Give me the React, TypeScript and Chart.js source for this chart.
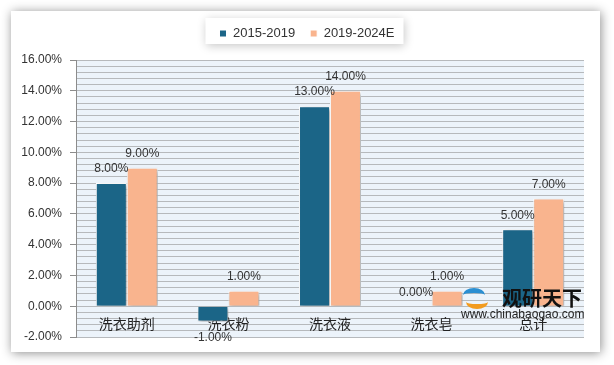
import React, { useEffect, useRef } from 'react';
import { Chart, registerables } from 'chart.js';

Chart.register(...registerables);

const categories = ['洗衣助剂', '洗衣粉', '洗衣液', '洗衣皂', '总计'];
const seriesNames = ['2015-2019', '2019-2024E'];
const values2015_2019 = [8, -1, 13, 0, 5];
const values2019_2024E = [9, 1, 14, 1, 7];
const yMin = -2;
const yMax = 16;
const yMajorStep = 2;
const yMinorStep = 0.4;

const TEAL = '#1b6587';
const PEACH = '#f9b48e';
const LATIN = '"Liberation Sans", Arial, sans-serif';
const CJK = '"Noto Sans CJK SC", sans-serif';

const isMajor = (v: number) => Math.abs(v / yMajorStep - Math.round(v / yMajorStep)) < 1e-6;

const bgPlugin = {
  id: 'bgPlugin',
  beforeDraw(chart: any) {
    const { ctx, chartArea: a } = chart;
    ctx.save();
    ctx.fillStyle = '#ecf3fa';
    ctx.fillRect(a.left, a.top, a.right - a.left, a.bottom - a.top);
    const lg = chart.legend;
    if (lg && lg.legendHitBoxes && lg.legendHitBoxes.length) {
      const hb = lg.legendHitBoxes;
      const l = Math.min(...hb.map((h: any) => h.left)) - 14;
      const r = Math.max(...hb.map((h: any) => h.left + h.width)) + 9;
      ctx.shadowColor = 'rgba(0,0,0,0.22)';
      ctx.shadowBlur = 10;
      ctx.shadowOffsetX = 1;
      ctx.shadowOffsetY = 2;
      ctx.fillStyle = '#ffffff';
      ctx.fillRect(l, lg.top + 6, r - l, 26);
    }
    ctx.restore();
  },
};

const shadowPlugin = {
  id: 'barShadow',
  beforeDatasetsDraw(chart: any) {
    const c = chart.ctx;
    c.save();
    c.shadowColor = 'rgba(0,0,0,0.35)';
    c.shadowBlur = 4;
    c.shadowOffsetX = 2;
    c.shadowOffsetY = 2;
  },
  afterDatasetsDraw(chart: any) {
    chart.ctx.restore();
  },
};

const labelPlugin = {
  id: 'valueLabels',
  afterDatasetsDraw(chart: any) {
    const { ctx } = chart;
    ctx.save();
    ctx.font = `12px ${LATIN}`;
    ctx.fillStyle = '#333333';
    ctx.textAlign = 'center';
    ctx.textBaseline = 'middle';
    chart.data.datasets.forEach((ds: any, i: number) => {
      const meta = chart.getDatasetMeta(i);
      meta.data.forEach((el: any, j: number) => {
        const v = ds.data[j] as number;
        const y = v < 0 ? el.y + 16 : el.y - 14;
        ctx.fillText(v.toFixed(2) + '%', el.x, y);
      });
    });
    ctx.restore();
  },
};

const legendSpacer = {
  id: 'legendSpacer',
  beforeInit(chart: any) {
    const lg = chart.legend;
    if (!lg) return;
    const orig = lg.fit;
    lg.fit = function () {
      orig.call(this);
      this.height += 10;
    };
  },
  afterLayout(chart: any) {
    const lg = chart.legend;
    if (!lg) return;
    // centre the legend on the whole card rather than on the padded box
    lg.left += 15;
    lg.right += 15;
  },
};

export default function App() {
  const ref = useRef<HTMLCanvasElement | null>(null);

  useEffect(() => {
    if (!ref.current) return;
    const chart = new Chart(ref.current, {
      type: 'bar',
      data: {
        labels: categories,
        datasets: [
          {
            label: seriesNames[0],
            data: values2015_2019,
            backgroundColor: TEAL,
            borderColor: '#ffffff',
            borderWidth: 1,
            categoryPercentage: 0.61,
            barPercentage: 1,
          },
          {
            label: seriesNames[1],
            data: values2019_2024E,
            backgroundColor: PEACH,
            borderColor: '#ffffff',
            borderWidth: 1,
            categoryPercentage: 0.61,
            barPercentage: 1,
          },
        ],
      },
      options: {
        responsive: false,
        animation: false,
        devicePixelRatio: 1,
        layout: { padding: { left: 0, right: 30, top: 12, bottom: 28 } },
        plugins: {
          tooltip: { enabled: false },
          legend: {
            display: true,
            position: 'top',
            align: 'center',
            labels: {
              boxWidth: 7,
              boxHeight: 7,
              padding: 15,
              color: '#333333',
              font: { family: LATIN, size: 13 },
            },
          },
        },
        scales: {
          x: {
            position: { y: 0 } as any,
            grid: { display: false, drawTicks: false },
            border: { display: false },
            ticks: {
              color: '#222222',
              font: { family: CJK, size: 14 },
              padding: 9,
              autoSkip: false,
              maxRotation: 0,
            },
          },
          y: {
            min: yMin,
            max: yMax,
            afterFit(scale: any) {
              scale.width = 76;
            },
            border: { display: true, color: '#8c8c8c', width: 1 },
            grid: {
              color: '#b6b9bc',
              lineWidth: 1,
              drawTicks: true,
              tickLength: 6,
              tickColor: (c: any) => (c.tick && isMajor(c.tick.value) ? '#8c8c8c' : 'rgba(0,0,0,0)'),
            },
            ticks: {
              stepSize: yMinorStep,
              maxTicksLimit: 100,
              autoSkip: false,
              padding: 8,
              color: '#333333',
              font: { family: LATIN, size: 12 },
              callback: (v: any) => (isMajor(Number(v)) ? Number(v).toFixed(2) + '%' : ''),
            },
          },
        },
      },
      plugins: [legendSpacer, bgPlugin, shadowPlugin, labelPlugin],
    });
    return () => chart.destroy();
  }, []);

  return (
    <div style={{ position: 'fixed', left: 0, top: 0, width: 614, height: 365, background: '#ffffff', overflow: 'hidden' }}>
      <div
        style={{
          position: 'absolute',
          left: 11,
          top: 11,
          width: 589,
          height: 341,
          background: '#ffffff',
          boxShadow: '1px 1px 10px rgba(0,0,0,0.45)',
        }}
      />
      <canvas ref={ref} width={614} height={365} style={{ position: 'absolute', left: 0, top: 0, width: 614, height: 365 }} />
      <div style={{ position: 'absolute', left: 463, top: 288, width: 26, height: 22, pointerEvents: 'none' }}>
        <div style={{ position: 'absolute', left: 0, top: 0, width: 22, height: 14, borderRadius: '50%', borderTop: '5px solid #2b8fd2', boxSizing: 'border-box' }} />
        <div style={{ position: 'absolute', left: 3, top: 7, width: 22, height: 14, borderRadius: '50%', borderBottom: '5px solid #f29b1f', boxSizing: 'border-box' }} />
      </div>
      <div style={{ position: 'absolute', left: 502, top: 287, fontFamily: CJK, fontWeight: 700, fontSize: 20, lineHeight: '22px', color: '#111111', whiteSpace: 'nowrap' }}>
        观研天下
      </div>
      <div style={{ position: 'absolute', left: 461, top: 308, fontFamily: LATIN, fontSize: 12, lineHeight: '12px', color: '#222222', whiteSpace: 'nowrap' }}>
        www.chinabaogao.com
      </div>
    </div>
  );
}
